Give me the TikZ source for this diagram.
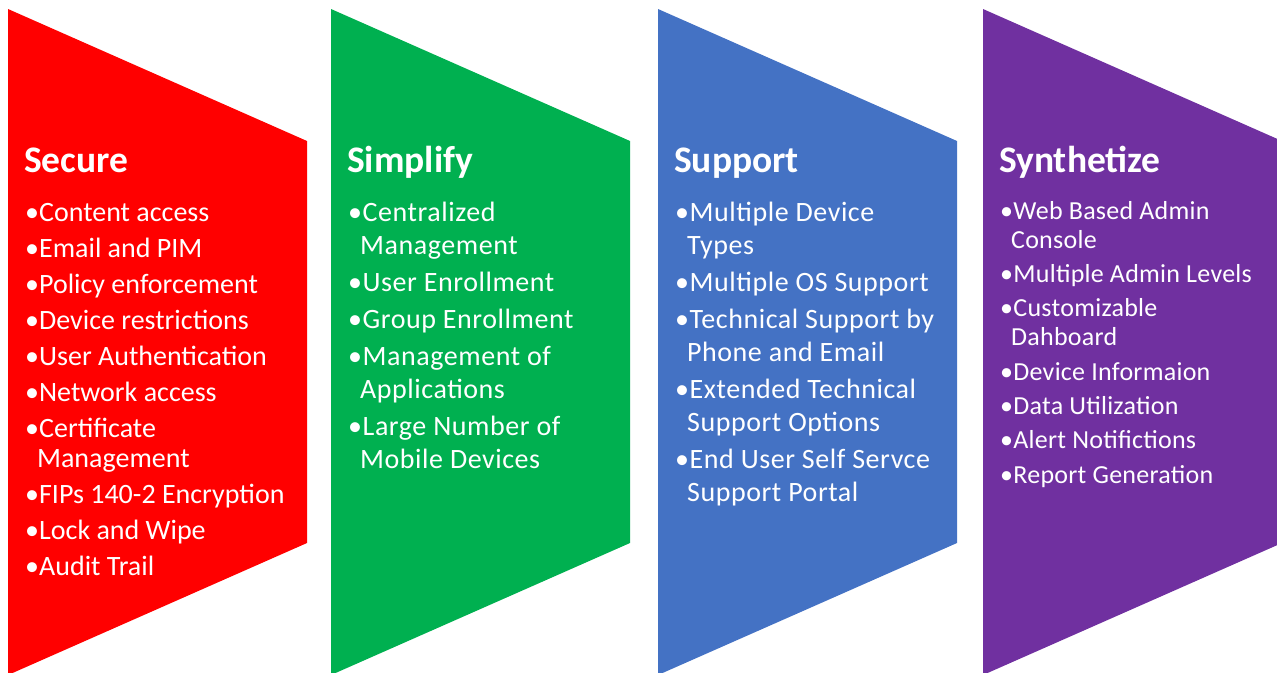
\documentclass[tikz,border=0pt]{standalone}
\usepackage{fontspec}
\setmainfont{Carlito}
\newfontfamily\lsA[LetterSpace=2]{Carlito}
\newfontfamily\lsB[LetterSpace=1]{Carlito}
\definecolor{cRed}{HTML}{FF0000}
\definecolor{cGreen}{HTML}{00B050}
\definecolor{cBlue}{HTML}{4472C4}
\definecolor{cPurple}{HTML}{7030A0}
\newcommand\itm[1]{\par\setbox0\hbox{•}\hangindent=\dimexpr\wd0-2pt\relax\hangafter=1\noindent•#1\par}
\tikzset{
  ttl/.style={text=white, inner sep=0pt, anchor=base west, font=\fontsize{37.5}{40}\selectfont\bfseries},
  body/.style={text=white, inner sep=0pt, anchor=base west}
}
\begin{document}
\begin{tikzpicture}[x=1pt,y=-1pt]
\useasboundingbox (0,0) rectangle (1277,672);
\clip (0,0) rectangle (1277,672);
\fill[cRed]    (8,9)   -- (307,141)  -- (307,543)  -- (8,675)   -- cycle;
\fill[cGreen]  (331,9) -- (630,141)  -- (630,543)  -- (331,675) -- cycle;
\fill[cBlue]   (658,9) -- (957,141)  -- (957,543)  -- (658,675) -- cycle;
\fill[cPurple] (983,9) -- (1282,141) -- (1282,543) -- (983,675) -- cycle;

\node[ttl] (t1) at (24,172) {Secure};
\node[ttl] (t2) at (347,172) {Simplify};
\node[ttl] (t3) at (674,172) {Support};
\node[ttl] (t4) at (999,172) {Synthetize};

\node[body] (b1) at (25,221) {\parbox[t]{290pt}{\fontsize{28}{30}\selectfont\parskip=6pt
\itm{Content access}
\itm{Email and PIM}
\itm{Policy enforcement}
\itm{Device restrictions}
\itm{User Authentication}
\itm{Network access}
\itm{Certificate\\Management}
\itm{FIPs 140-2 Encryption}
\itm{Lock and Wipe}
\itm{Audit Trail}}};

\node[body] (b2) at (348,221.5) {\parbox[t]{290pt}{\lsA\fontsize{28}{33}\selectfont\parskip=4pt
\itm{Centralized\\Management}
\itm{User Enrollment}
\itm{Group Enrollment}
\itm{Management of\\Applications}
\itm{Large Number of\\Mobile Devices}}};

\node[body] (b3) at (675,221.5) {\parbox[t]{290pt}{\lsA\fontsize{28}{33}\selectfont\parskip=4pt
\itm{Multiple Device\\Types}
\itm{Multiple OS Support}
\itm{Technical Support by\\Phone and Email}
\itm{Extended Technical\\Support Options}
\itm{End User Self Servce\\Support Portal}}};

\node[body] (b4) at (1000,219.3) {\parbox[t]{290pt}{\lsB\fontsize{26}{29}\selectfont\parskip=5.3pt
\itm{Web Based Admin\\Console}
\itm{Multiple Admin Levels}
\itm{Customizable\\Dahboard}
\itm{Device Informaion}
\itm{Data Utilization}
\itm{Alert Notifictions}
\itm{Report Generation}}};
\end{tikzpicture}
\end{document}
